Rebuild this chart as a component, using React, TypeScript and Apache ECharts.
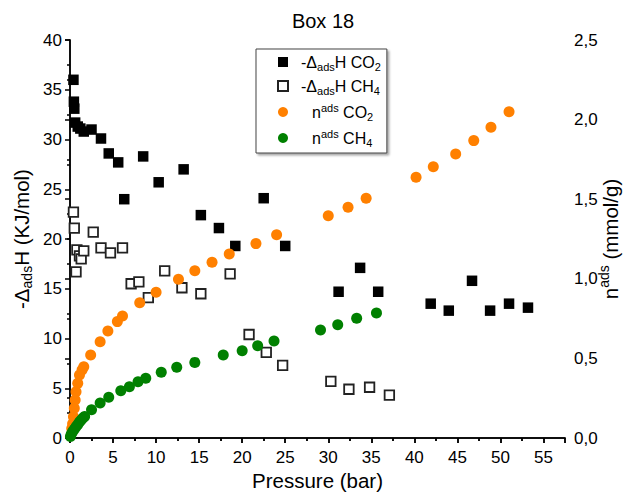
import React, { useEffect, useRef } from 'react';
import * as echarts from 'echarts';

// [pressure (bar), -ΔadsH (kJ/mol)]
const dhCO2: [number, number][] = [
  [0.4, 36.0], [0.45, 33.8], [0.5, 33.1], [0.6, 31.7], [0.9, 31.3], [1.2, 31.1], [1.6, 30.8],
  [2.5, 31.0], [3.6, 30.1], [4.5, 28.6], [5.6, 27.7], [6.3, 24.0], [8.5, 28.3], [10.3, 25.7],
  [13.2, 27.0], [15.2, 22.4], [17.3, 21.1], [19.2, 19.3], [22.5, 24.1], [25.0, 19.3],
  [31.2, 14.7], [33.7, 17.1], [35.8, 14.7], [41.9, 13.5], [44.0, 12.8], [46.7, 15.8],
  [48.8, 12.8], [51.0, 13.5], [53.2, 13.1],
];

const dhCH4: [number, number][] = [
  [0.4, 22.7], [0.5, 21.1], [0.7, 16.7], [0.8, 18.9], [1.1, 18.3], [1.3, 18.0], [1.6, 18.8],
  [2.7, 20.7], [3.6, 19.1], [4.7, 18.6], [6.1, 19.1], [7.1, 15.5], [8.0, 15.7], [9.1, 14.1],
  [11.0, 16.8], [13.0, 15.1], [15.2, 14.5], [18.6, 16.5], [20.8, 10.4], [22.8, 8.6],
  [24.7, 7.3], [30.3, 5.7], [32.4, 4.9], [34.8, 5.1], [37.1, 4.3],
];

// [pressure (bar), n ads (mmol/g)]
const nCO2: [number, number][] = [
  [0.2, 0.06], [0.3, 0.09], [0.4, 0.134], [0.5, 0.187], [0.6, 0.239], [0.7, 0.291],
  [0.9, 0.344], [1.1, 0.396], [1.4, 0.427], [1.6, 0.448], [2.4, 0.521], [3.5, 0.605],
  [4.4, 0.672], [5.5, 0.731], [6.1, 0.766], [8.1, 0.85], [10.0, 0.915], [12.6, 0.997],
  [14.5, 1.051], [16.5, 1.104], [18.5, 1.156], [21.6, 1.221], [24.0, 1.277], [30.0, 1.396],
  [32.3, 1.449], [34.4, 1.506], [40.2, 1.638], [42.2, 1.704], [44.8, 1.784], [46.9, 1.868],
  [48.9, 1.952], [51.0, 2.05],
];

const nCH4: [number, number][] = [
  [0.05, 0.01], [0.15, 0.025], [0.3, 0.04], [0.5, 0.055], [0.7, 0.07], [0.9, 0.085],
  [1.1, 0.1], [1.3, 0.113], [1.5, 0.125], [1.7, 0.135], [2.5, 0.178], [3.5, 0.22],
  [4.5, 0.256], [5.9, 0.297], [6.9, 0.322], [7.9, 0.354], [8.8, 0.375], [10.6, 0.413],
  [12.4, 0.444], [14.5, 0.475], [17.8, 0.521], [20.0, 0.548], [21.8, 0.58], [23.7, 0.609],
  [29.1, 0.678], [31.1, 0.712], [33.3, 0.752], [35.6, 0.785],
];

const FONT = '"Liberation Sans", Arial, sans-serif';

export default function App() {
  const ref = useRef<HTMLDivElement>(null);
  useEffect(() => {
    document.body.style.margin = '0';
    const chart = echarts.init(ref.current!, null, { renderer: 'svg' });

    const nameRich = {
      n: { fontSize: 20.5, lineHeight: 26, fontFamily: FONT, color: '#000' },
      sub: { fontSize: 14, lineHeight: 13, verticalAlign: 'bottom', fontFamily: FONT, color: '#000' },
      sup: { fontSize: 14, lineHeight: 15, verticalAlign: 'top', fontFamily: FONT, color: '#000' },
    };
    const legRich = {
      n: { fontSize: 16, lineHeight: 20, fontFamily: FONT, color: '#000' },
      i1: { fontSize: 16, lineHeight: 20, fontFamily: FONT, color: '#000', padding: [0, 0, 0, 8] },
      i2: { fontSize: 16, lineHeight: 20, fontFamily: FONT, color: '#000', padding: [0, 0, 0, 19] },
      sub: { fontSize: 11, lineHeight: 10, verticalAlign: 'bottom', fontFamily: FONT, color: '#000' },
      sup: { fontSize: 11, lineHeight: 12, verticalAlign: 'top', fontFamily: FONT, color: '#000' },
    };
    const legendText: Record<string, string> = {
      dhCO2: '{i1|-Δ}{sub|ads}{n|H CO}{sub|2}',
      dhCH4: '{i1|-Δ}{sub|ads}{n|H CH}{sub|4}',
      nCO2: '{i2|n}{sup|ads}{n| CO}{sub|2}',
      nCH4: '{i2|n}{sup|ads}{n| CH}{sub|4}',
    };

    const tickLabel = { fontSize: 17, fontFamily: FONT, color: '#000' };
    const axisLine = { show: true, lineStyle: { color: '#000', width: 1.5 } };
    const tickStyle = { color: '#000', width: 1.5 };

    chart.setOption({
      animation: false,
      backgroundColor: '#fff',
      title: {
        text: 'Box 18',
        left: 318,
        top: 6,
        textAlign: 'center',
        textStyle: { fontSize: 20, fontWeight: 'normal', fontFamily: FONT, color: '#000' },
      },
      grid: { left: 70, right: 64, top: 40, bottom: 61, outerBoundsMode: 'none' },
      legend: {
        orient: 'vertical',
        left: 256,
        top: 49,
        padding: [5, 6, 5, 21],
        itemGap: 6,
        itemWidth: 10,
        itemHeight: 10,
        backgroundColor: '#fff',
        borderColor: '#444',
        borderWidth: 1,
        shadowColor: 'rgba(0,0,0,0.35)',
        shadowBlur: 2,
        shadowOffsetX: 2,
        shadowOffsetY: 2,
        formatter: (name: string) => legendText[name],
        textStyle: { rich: legRich },
        data: ['dhCO2', 'dhCH4', 'nCO2', 'nCH4'],
      },
      xAxis: [
        {
          type: 'value',
          position: 'bottom',
          min: 0,
          max: 57.5,
          interval: 5,
          name: 'Pressure (bar)',
          nameLocation: 'middle',
          nameGap: 32,
          nameMoveOverlap: false,
          nameTextStyle: { fontSize: 20.5, fontFamily: FONT, color: '#000' },
          axisLine,
          axisTick: { show: true, inside: false, length: 5, lineStyle: tickStyle },
          minorTick: { show: true, splitNumber: 2, length: 3, lineStyle: tickStyle },
          splitLine: { show: false },
          axisLabel: {
            ...tickLabel,
            margin: 11,
            formatter: (v: number) => (v % 5 === 0 ? String(v) : ''),
          },
        },
        {
          type: 'value',
          position: 'top',
          min: 0,
          max: 57.5,
          interval: 5,
          axisLine,
          axisTick: { show: true, inside: true, length: 5, lineStyle: tickStyle },
          minorTick: { show: true, splitNumber: 2, length: 3, lineStyle: tickStyle },
          splitLine: { show: false },
          axisLabel: { show: false },
        },
      ],
      yAxis: [
        {
          type: 'value',
          position: 'left',
          min: 0,
          max: 40,
          interval: 5,
          name: '{n|-Δ}{sub|ads}{n|H (KJ/mol)}',
          nameLocation: 'middle',
          nameRotate: 90,
          nameGap: 36,
          nameMoveOverlap: false,
          nameTextStyle: { rich: nameRich },
          axisLine,
          axisTick: { show: true, inside: false, length: 5, lineStyle: tickStyle },
          minorTick: { show: true, splitNumber: 2, length: 3, lineStyle: tickStyle },
          splitLine: { show: false },
          axisLabel: { ...tickLabel, margin: 8 },
        },
        {
          type: 'value',
          position: 'right',
          min: 0,
          max: 2.5,
          interval: 0.5,
          name: '{n|n}{sup|ads}{n| (mmol/g)}',
          nameLocation: 'middle',
          nameRotate: 90,
          nameGap: 32,
          nameMoveOverlap: false,
          nameTextStyle: { rich: nameRich },
          axisLine,
          axisTick: { show: true, inside: true, length: 5, lineStyle: tickStyle },
          minorTick: { show: true, splitNumber: 2, length: 3, lineStyle: tickStyle },
          splitLine: { show: false },
          axisLabel: {
            ...tickLabel,
            margin: 9,
            formatter: (v: number) => v.toFixed(1).replace('.', ','),
          },
        },
      ],
      series: [
        {
          name: 'dhCO2',
          type: 'scatter',
          xAxisIndex: 0,
          yAxisIndex: 0,
          symbol: 'rect',
          symbolSize: 10.5,
          itemStyle: { color: '#000', opacity: 1 },
          data: dhCO2,
        },
        {
          name: 'dhCH4',
          type: 'scatter',
          xAxisIndex: 0,
          yAxisIndex: 0,
          symbol: 'rect',
          symbolSize: 9.5,
          itemStyle: { color: '#fff', borderColor: '#222', borderWidth: 1.8, opacity: 1 },
          data: dhCH4,
        },
        {
          name: 'nCO2',
          type: 'scatter',
          xAxisIndex: 0,
          yAxisIndex: 1,
          symbol: 'circle',
          symbolSize: 11,
          itemStyle: { color: '#FF8000', opacity: 1 },
          data: nCO2,
        },
        {
          name: 'nCH4',
          type: 'scatter',
          xAxisIndex: 0,
          yAxisIndex: 1,
          symbol: 'circle',
          symbolSize: 11,
          itemStyle: { color: '#008000', opacity: 1 },
          data: nCH4,
        },
      ],
    });
    return () => chart.dispose();
  }, []);
  return <div ref={ref} style={{ width: 629, height: 499 }} />;
}
